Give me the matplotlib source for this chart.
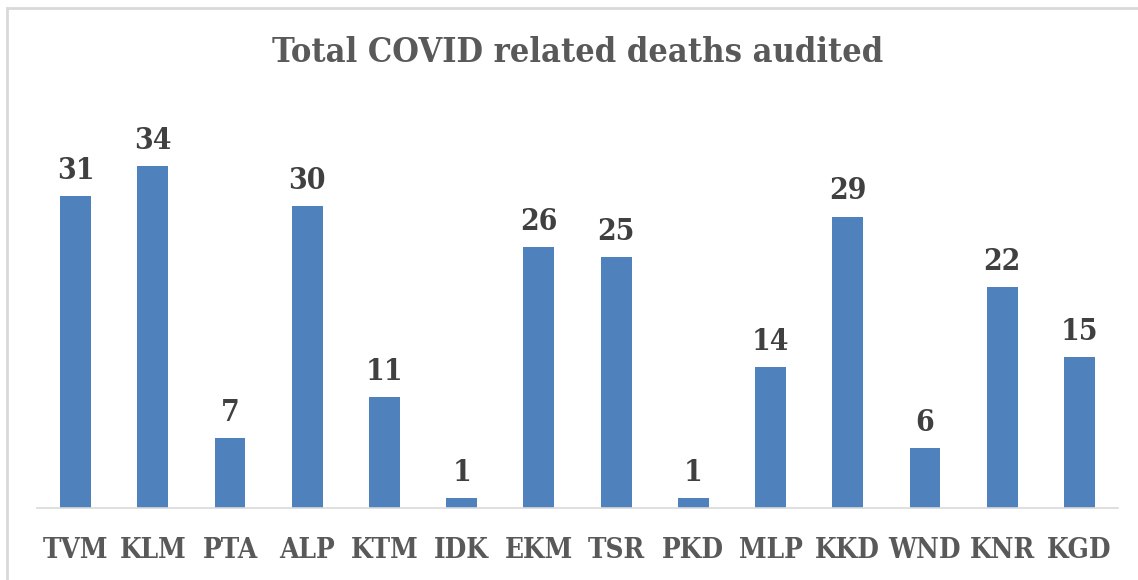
import matplotlib.pyplot as plt
from matplotlib.patches import Rectangle

districts = ["TVM", "KLM", "PTA", "ALP", "KTM", "IDK", "EKM",
             "TSR", "PKD", "MLP", "KKD", "WND", "KNR", "KGD"]
deaths = [31, 34, 7, 30, 11, 1, 26, 25, 1, 14, 29, 6, 22, 15]

plt.rcParams['font.family'] = ['DejaVu Serif']
plt.rcParams['font.stretch'] = 'condensed'

fig = plt.figure(figsize=(11.38, 5.8), dpi=100)
ax = fig.add_axes([37 / 1138, 72 / 580, 1081 / 1138, 402 / 580])

x = range(len(districts))
bars = ax.bar(x, deaths, width=0.4, color="#4f81bd")

# value labels above bars
for rect, val in zip(bars, deaths):
    ax.annotate(str(val), (rect.get_x() + rect.get_width() / 2, val),
                xytext=(0, 8), textcoords="offset points",
                ha="center", va="bottom", fontsize=21.5, fontweight="bold",
                color="#404040")

ax.set_xlim(-0.5, len(districts) - 0.5)
ax.set_ylim(0, 40)
ax.set_xticks(list(x))
ax.set_xticklabels(districts, fontsize=20, fontweight="bold", color="#595959")
ax.tick_params(axis="x", length=0, pad=21)
ax.set_yticks([])
for s in ["top", "right", "left"]:
    ax.spines[s].set_visible(False)
ax.spines["bottom"].set_color("#d9d9d9")
ax.spines["bottom"].set_linewidth(1.2)

fig.text(578 / 1138, 1 - 52 / 580, "Total COVID related deaths audited",
         ha="center", va="center", fontsize=24.6, fontweight="bold",
         color="#595959")

# outer chart border
fig.patches.append(Rectangle((6.5 / 1138, -0.1), 1.2, 1 - 7.5 / 580 + 0.1,
                             transform=fig.transFigure, fill=False,
                             edgecolor="#d9d9d9", linewidth=2))

fig.savefig("out.png", dpi=100)
